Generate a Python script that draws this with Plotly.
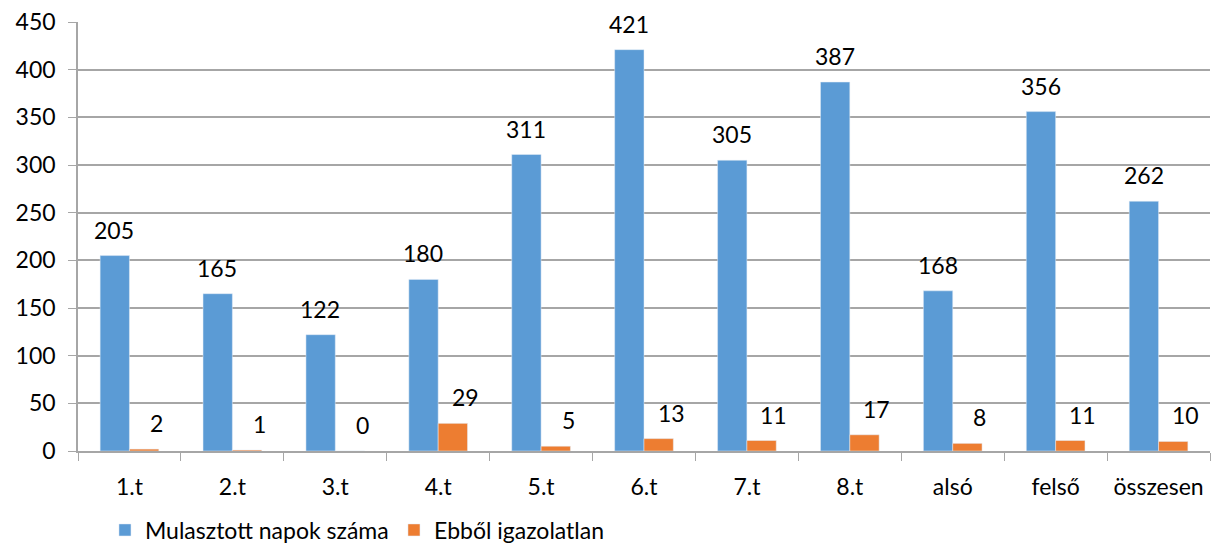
import plotly.graph_objects as go

categories = ["1.t", "2.t", "3.t", "4.t", "5.t", "6.t", "7.t", "8.t", "alsó", "felső", "összesen"]
mulasztott = [205, 165, 122, 180, 311, 421, 305, 387, 168, 356, 262]
igazolatlan = [2, 1, 0, 29, 5, 13, 11, 17, 8, 11, 10]
series_names = ["Mulasztott napok száma", "Ebből igazolatlan"]
y_ticks = [0, 50, 100, 150, 200, 250, 300, 350, 400, 450]

BLUE = "#5B9BD5"
ORANGE = "#ED7D31"
GRID = "#A6A6A6"
FONT = "Lato"
FS = 23

fig = go.Figure()
fig.add_trace(go.Bar(x=categories, y=mulasztott, name=series_names[0], marker_color=BLUE))
fig.add_trace(go.Bar(x=categories, y=igazolatlan, name=series_names[1], marker_color=ORANGE))

annotations = []
for c, v in zip(categories, mulasztott):
    annotations.append(dict(x=c, y=v, text=str(v), showarrow=False, xref="x", yref="y",
                            xshift=-15, yshift=26, font=dict(family=FONT, size=FS, color="black")))
for c, v in zip(categories, igazolatlan):
    annotations.append(dict(x=c, y=v, text=str(v), showarrow=False, xref="x", yref="y",
                            xshift=27, yshift=26, font=dict(family=FONT, size=FS, color="black")))

fig.update_layout(
    width=1215, height=545,
    margin=dict(l=78, r=5, t=22, b=94),
    plot_bgcolor="white", paper_bgcolor="white",
    barmode="group", bargap=0.43, bargroupgap=0.0,
    font=dict(family=FONT, size=FS, color="black"),
    annotations=annotations,
    legend=dict(orientation="h", xref="container", yref="container", x=0.0864, xanchor="left",
                y=0.0275, yanchor="middle",
                font=dict(family=FONT, size=FS, color="black"), itemwidth=30,
                entrywidth=244, traceorder="normal"),
    xaxis=dict(showline=True, linecolor=GRID, linewidth=1.5, ticks="outside", tickson="boundaries",
               ticklen=8, tickcolor=GRID, showgrid=False, tickfont=dict(family=FONT, size=FS),
               automargin=False, ticklabelstandoff=15),
    yaxis=dict(range=[0, 450], tickvals=y_ticks, showline=True, linecolor=GRID, linewidth=1.5,
               ticks="outside", ticklen=8, tickcolor=GRID, showgrid=True, gridcolor=GRID,
               gridwidth=1.5, zeroline=False, tickfont=dict(family=FONT, size=FS),
               automargin=False, ticklabelstandoff=8),
)

fig.write_html("out.html", config={"displayModeBar": False},
               post_script="document.body.style.margin='0px';")
